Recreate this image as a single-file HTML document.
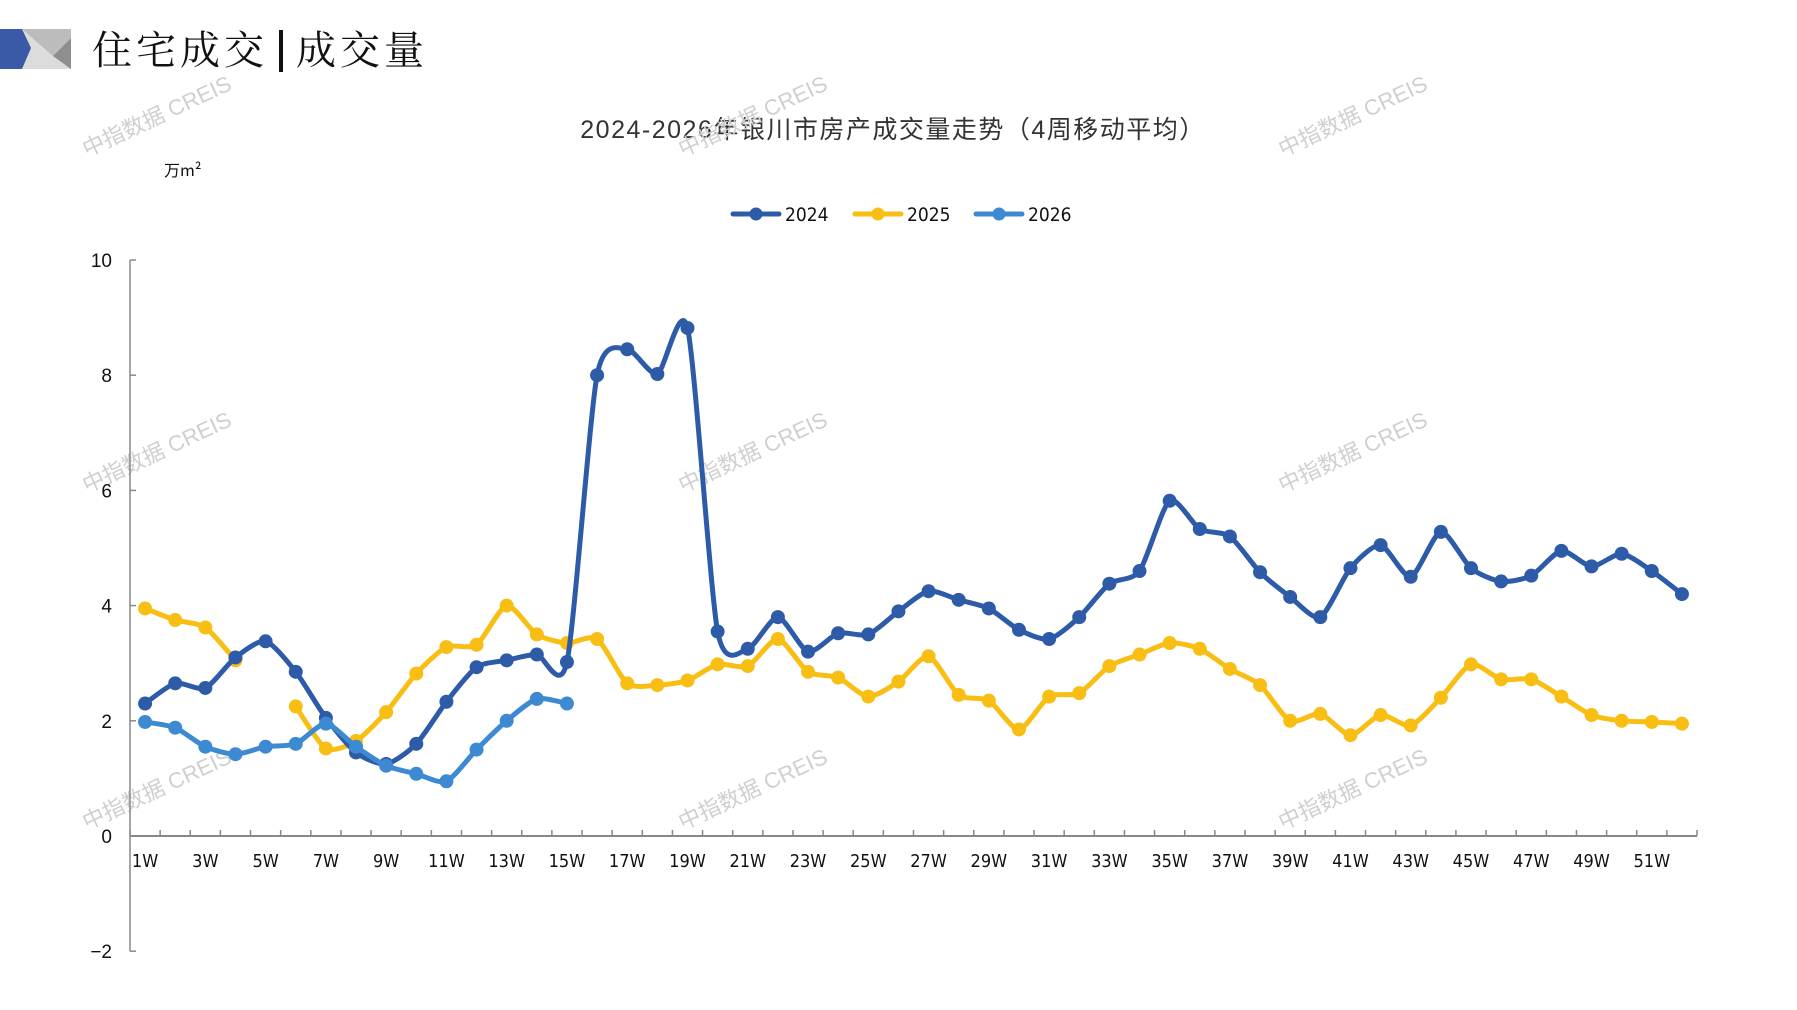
<!DOCTYPE html>
<html><head><meta charset="utf-8"><style>
html,body{margin:0;padding:0;background:#fff;}
body{width:1797px;height:1010px;overflow:hidden;position:relative;font-family:"Liberation Sans","Noto Sans CJK SC",sans-serif;}
</style></head><body>
<svg id="s" width="1797" height="1010" xmlns="http://www.w3.org/2000/svg" style="position:absolute;left:0;top:0">
<polygon points="0,29 71,29 71,69 0,69" fill="#dcdcdc"/>
<polygon points="0,29 22,29 31,48 22,69 0,69" fill="#3a5aa8"/>
<polygon points="22,29 71,29 71,38 53,56" fill="#bcbcbc"/>
<polygon points="53,56 71,38 71,69" fill="#8e8e8e"/>
<text x="92" y="64" font-family="'Noto Serif CJK SC',serif" font-size="40" fill="#111" letter-spacing="4">住宅成交</text>
<rect x="279" y="30" width="4" height="42" fill="#111"/>
<text x="296" y="64" font-family="'Noto Serif CJK SC',serif" font-size="40" fill="#111" letter-spacing="4">成交量</text>
<text x="893" y="138" text-anchor="middle" font-family="'Liberation Sans','Noto Sans CJK SC',sans-serif" font-size="25" letter-spacing="1.5" fill="#333">2024-2026年银川市房产成交量走势（4周移动平均）</text>
<text x="164" y="176" font-family="'Noto Sans CJK SC',sans-serif" font-size="16" fill="#111">万m²</text>
<g id="g"></g>
</svg>
<script>
const NS="http://www.w3.org/2000/svg";const g=document.getElementById('g');
function el(t,a,txt){const e=document.createElementNS(NS,t);for(const k in a)e.setAttribute(k,a[k]);if(txt!==undefined)e.textContent=txt;g.appendChild(e);return e;}
const X0=130,X1=1697,W=(X1-X0)/52,Y0=836,U=57.6;
const xw=n=>X0+W*(n-0.5), yv=v=>Y0-v*U;
[[160,123],[756,123],[1356,123],[160,459],[756,459],[1356,459],[160,796],[756,796],[1356,796]].forEach(p=>{
el('text',{x:p[0],y:p[1],'text-anchor':'middle','font-size':22,fill:'#cfcfcf',transform:`rotate(-25 ${p[0]} ${p[1]})`,'font-family':"'Liberation Sans','Noto Sans CJK SC',sans-serif"},'中指数据 CREIS');});
el('line',{x1:X0,y1:yv(10),x2:X0,y2:yv(-2),stroke:'#888','stroke-width':1.5});
[10,8,6,4,2,0,-2].forEach(v=>{el('line',{x1:X0,y1:yv(v),x2:X0+6,y2:yv(v),stroke:'#888','stroke-width':1.5});
el('text',{x:X0-18,y:yv(v)+7,'text-anchor':'end','font-size':19,fill:'#111'},v<0?'−2':String(v));});
el('line',{x1:X0,y1:Y0,x2:X1,y2:Y0,stroke:'#888','stroke-width':2});
for(let i=0;i<=52;i++){el('line',{x1:X0+W*i,y1:Y0,x2:X0+W*i,y2:Y0-6,stroke:'#888','stroke-width':1.5});}
for(let n=1;n<=51;n+=2){el('text',{x:xw(n),y:Y0+31,'text-anchor':'middle','font-size':18,fill:'#111','font-family':"'DejaVu Sans Condensed','Liberation Sans Narrow','Liberation Sans',sans-serif"},n+'W');}
const d24=[2.3,2.65,2.57,3.1,3.38,2.85,2.05,1.45,1.25,1.6,2.33,2.93,3.05,3.15,3.02,8.0,8.45,8.02,8.82,3.55,3.25,3.8,3.2,3.52,3.5,3.9,4.25,4.1,3.95,3.58,3.42,3.8,4.38,4.6,5.82,5.33,5.2,4.58,4.15,3.8,4.65,5.05,4.5,5.28,4.65,4.42,4.52,4.95,4.68,4.9,4.6,4.2];
const d25a=[3.95,3.75,3.62,3.05];
const d25b=[2.25,1.52,1.65,2.15,2.82,3.28,3.32,4.0,3.5,3.35,3.42,2.65,2.62,2.7,2.98,2.95,3.42,2.85,2.75,2.42,2.68,3.12,2.45,2.35,1.85,2.42,2.48,2.95,3.15,3.35,3.25,2.9,2.62,2.0,2.12,1.75,2.1,1.92,2.4,2.98,2.72,2.72,2.42,2.1,2.0,1.98,1.95];
const d26=[1.98,1.88,1.55,1.42,1.55,1.6,1.95,1.55,1.22,1.08,0.95,1.5,2.0,2.38,2.3];
function series(data,start,color){const p=data.map((v,i)=>[xw(start+i),yv(v)]);
let d='M'+p[0][0]+','+p[0][1];
for(let i=0;i<p.length-1;i++){const a=p[i-1]||p[i],b=p[i],c=p[i+1],e=p[i+2]||c;const t=0.12;
d+=` C${b[0]+(c[0]-a[0])*t},${b[1]+(c[1]-a[1])*t} ${c[0]-(e[0]-b[0])*t},${c[1]-(e[1]-b[1])*t} ${c[0]},${c[1]}`;}
el('path',{d:d,fill:'none',stroke:color,'stroke-width':5,'stroke-linejoin':'round','stroke-linecap':'round'});
p.forEach(q=>el('circle',{cx:q[0],cy:q[1],r:7,fill:color}));}
series(d25a,1,'#F9BE14');series(d25b,6,'#F9BE14');
series(d24,1,'#2D5BA8');
series(d26,1,'#3D8AD2');
[[733,'#2D5BA8','2024'],[855,'#F9BE14','2025'],[976,'#3D8AD2','2026']].forEach(l=>{
el('line',{x1:l[0],y1:214,x2:l[0]+46,y2:214,stroke:l[1],'stroke-width':5,'stroke-linecap':'round'});
el('circle',{cx:l[0]+23,cy:214,r:6.5,fill:l[1]});
el('text',{x:l[0]+52,y:221,'font-size':19,fill:'#111','font-family':"'DejaVu Sans Condensed','Liberation Sans',sans-serif"},l[2]);});
</script>
</body></html>
